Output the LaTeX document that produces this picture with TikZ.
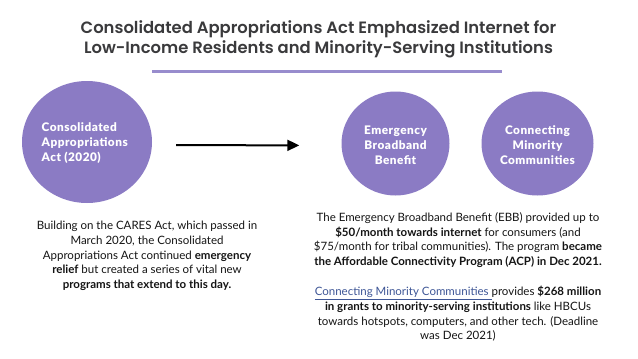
\documentclass[tikz,border=0pt]{standalone}
\usepackage{fontspec}
\setmainfont{Lato}
\newfontfamily\titlefont{Poppins}[UprightFont=* SemiBold]
\newfontfamily\heavyfont{Lato}[UprightFont=* Black, LetterSpace=4]
\usepackage{tikz}
\usetikzlibrary{shapes, positioning, arrows.meta, calc}

\definecolor{lavender}{RGB}{139,123,196}
\definecolor{rulecol}{RGB}{152,140,205}
\definecolor{titlegray}{RGB}{58,58,60}
\definecolor{bodytext}{RGB}{20,20,20}
\definecolor{linkblue}{RGB}{62,86,150}

\begin{document}
\begin{tikzpicture}[x=1pt, y=-1pt, >={Triangle[length=12pt,width=11pt]},
    bubble/.style={ellipse, fill=lavender, inner sep=0pt},
    bubbletext/.style={text=white, font=\heavyfont\fontsize{11.8}{15}\selectfont, align=center},
    para/.style={text=bodytext, font=\fontsize{11.5}{14.6}\selectfont, align=center}]
    \useasboundingbox (0,0) rectangle (638,359);

    % heading
    \node[text=titlegray, font=\titlefont\fontsize{16.4}{20}\selectfont, align=center] (title) at (318.5,39.5)
        {Consolidated Appropriations Act Emphasized Internet for\\Low-Income Residents and Minority-Serving Institutions};
    \coordinate (r1) at (152,71);
    \coordinate (r2) at (502,71);
    \draw[rulecol, line width=3pt] (r1) -- (r2);

    % circles
    \node[bubble, minimum width=130pt, minimum height=122pt] (caa) at (87,142) {};
    \node[bubbletext, align=left, anchor=west, inner sep=0pt] (caatxt) at (41.5,143) {Consolidated\\Appropriations\\Act (2020)};
    \node[bubble, minimum width=108pt, minimum height=104pt] (ebb) at (395.5,143.5) {};
    \node[bubbletext] (ebbtxt) at (395.5,145) {Emergency\\Broadband\\Benefit};
    \node[bubble, minimum width=112pt, minimum height=104pt] (cmc) at (537.5,143.5) {};
    \node[bubbletext] (cmctxt) at (537.5,145) {Connecting\\Minority\\Communities};

    \draw[->, line width=2pt, black, shorten <=24pt, shorten >=42pt] ($(caa.east)+(0,3)$) -- ($(ebb.west)+(0,2)$);

    % text
    \node[para] (left) at (147,256) {Building on the CARES Act, which passed in\\March 2020, the Consolidated\\Appropriations Act continued \textbf{emergency}\\\textbf{relief} but created a series of vital new\\\textbf{programs that extend to this day.}};
    \node[para] (ebbinfo) at (458,240) {The Emergency Broadband Benefit (EBB) provided up to\\\textbf{\$50/month towards internet} for consumers (and\\\$75/month for tribal communities). The program \textbf{became}\\\textbf{the Affordable Connectivity Program (ACP) in Dec 2021.}};
    \node[para] (cmcinfo) at (458,314) {{\color{linkblue}\underline{Connecting Minority Communities }}provides \textbf{\$268 million}\\\textbf{in grants to minority-serving institutions} like HBCUs\\towards hotspots, computers, and other tech. (Deadline\\was Dec 2021)};
\end{tikzpicture}
\end{document}
